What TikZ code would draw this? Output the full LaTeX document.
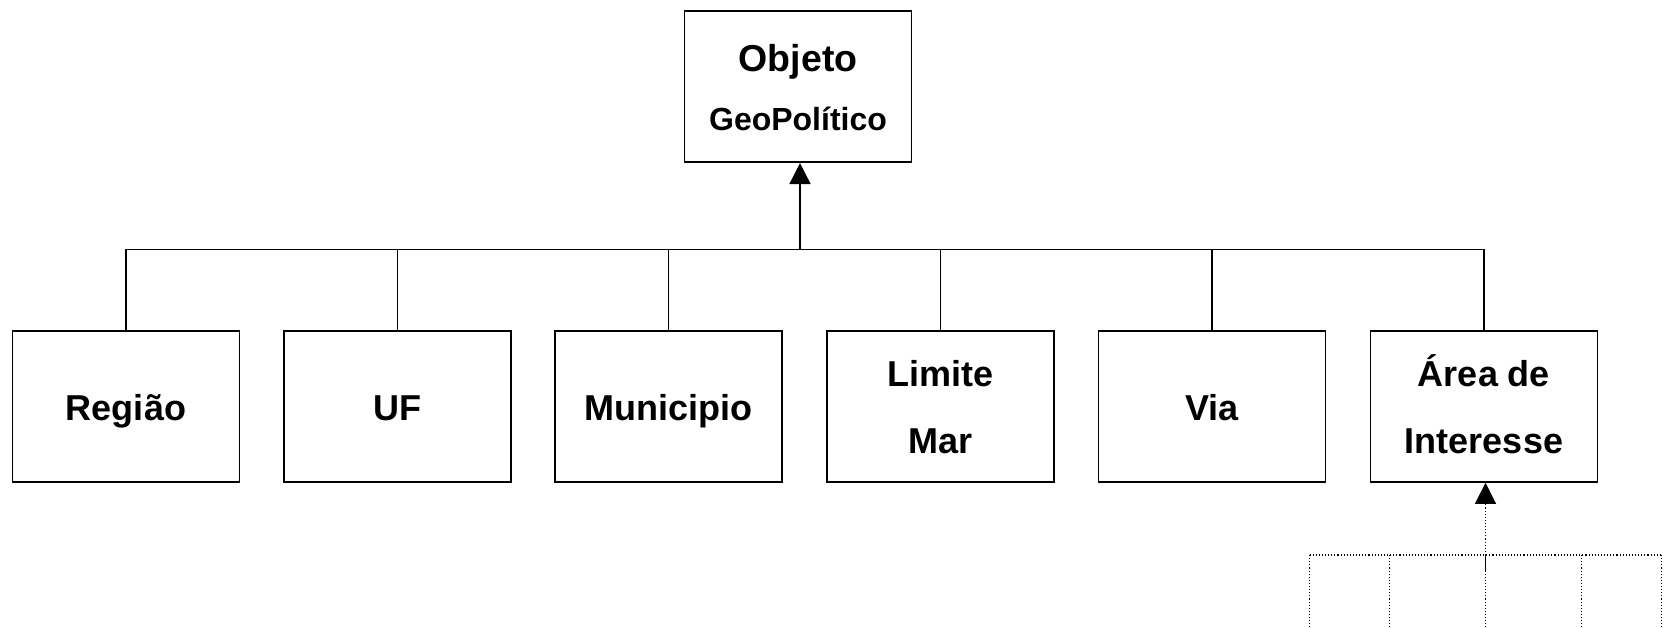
\documentclass[tikz,border=0pt]{standalone}
\usepackage{fontspec}
\setmainfont{Liberation Sans}
\usetikzlibrary{arrows.meta}
\begin{document}
\begin{tikzpicture}[x=1pt,y=-1pt,
  box/.style={draw,line width=1.6pt,minimum width=227pt,minimum height=151pt,inner sep=0pt},
  topbox/.style={draw,line width=1.6pt,minimum width=227pt,minimum height=151.5pt,inner sep=0pt},
  lbl/.style={anchor=base,font=\fontsize{36}{40}\selectfont\bfseries,inner sep=0pt},
  olbl/.style={anchor=base,font=\fontsize{37.5}{40}\selectfont\bfseries,inner sep=0pt},
  slbl/.style={anchor=base,font=\fontsize{32}{34}\selectfont\bfseries,inner sep=0pt},
  conn/.style={line width=1.5pt},
  tip/.style={-{Triangle[length=21pt,width=21pt]}},
  dots/.style={line width=1.1pt,dash pattern=on 1.1pt off 2pt}]
\useasboundingbox (0,0) rectangle (1664,628);
% top box
\node[topbox] (obj) at (798,86.5) {};
\node[olbl] (objt) at (798,71.5) {Objeto};
\node[slbl] (geot) at (798,130.5) {GeoPolítico};
% children
\node[box] (reg) at (126,406.5) {};
\node[box] (uf) at (397.5,406.5) {};
\node[box] (mun) at (668.5,406.5) {};
\node[box] (lim) at (940.5,406.5) {};
\node[box] (via) at (1212,406.5) {};
\node[box] (area) at (1484,406.5) {};
\node[lbl] (regt) at (126,420) {Região};
\node[lbl] (uft) at (397.5,420) {UF};
\node[lbl] (munt) at (668.5,420) {Municipio};
\node[lbl] (limt1) at (940.5,386.5) {Limite};
\node[lbl] (limt2) at (940.5,453.5) {Mar};
\node[lbl] (viat) at (1212,420) {Via};
\node[lbl] (areat1) at (1484,386.5) {Área de};
\node[lbl] (areat2) at (1484,453.5) {Interesse};
% tree connectors
\coordinate (bar) at (800,249.5);
\foreach \n in {reg,uf,mun,lim,via,area}{
  \draw[conn] (\n.north) |- (bar);
}
\draw[conn,tip] (bar) -- (bar |- obj.south);
% dotted sub-tree
\coordinate (dj) at (1485.5,555);
\coordinate (d1) at (1309.5,555);
\coordinate (d2) at (1389.5,555);
\coordinate (d4) at (1581.5,555);
\coordinate (d5) at (1661.5,555);
\draw[conn,dots,tip] (dj) -- (dj |- area.south);
\draw[dots] (d1) -- (d5);
\foreach \c in {d1,d2,dj,d4,d5}{
  \draw[dots] (\c) -- ++(0,73);
}
\draw[line width=1.1pt] (dj) -- ++(0,16);
\end{tikzpicture}
\end{document}
